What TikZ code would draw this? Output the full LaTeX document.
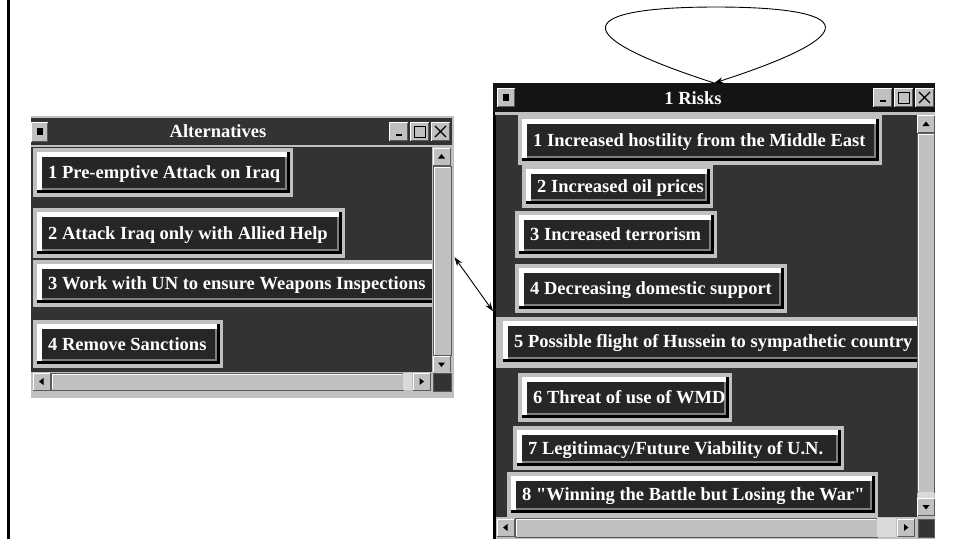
\documentclass[tikz,border=0pt]{standalone}
\usepackage{fontspec}
\setmainfont{Liberation Serif}
% same face without the TeX quote mapping, for straight quotes
\newfontfamily\straightfont{Liberation Serif}[Ligatures=ResetAll]
\usetikzlibrary{arrows.meta}

\definecolor{framegray}{HTML}{C0C0C0}
\definecolor{panelbg}{HTML}{333333}
\definecolor{btnfill}{HTML}{262626}
\definecolor{midgray}{HTML}{7F7F7F}
\definecolor{darkedge}{HTML}{5A5A5A}
\definecolor{activebar}{HTML}{141414}
\definecolor{stipple}{HTML}{DADADA}

% straight double quote
\newcommand{\dq}{{\straightfont\char34}}

% one list entry: light frame, bevelled dark button, white label
\newcommand{\panelitem}[6]{%
  \fill[framegray] (#1,#2) rectangle (#3,#4);
  \fill[black] ({#1+4},{#2+4}) rectangle ({#3-3},{#4-4});
  \fill[white] ({#1+4},{#2+4}) rectangle ({#3-6},{#4-7});
  \fill[midgray] ({#1+9},{#2+9}) rectangle ({#3-6},{#4-7});
  \fill[btnfill] ({#1+9},{#2+9}) rectangle ({#3-8},{#4-9});
  \node[itemlabel] (#5) at ({#1+15},{(#2+#4)/2+6}) {#6};
}
% scroll bar arrow button centred at (#1,#2), arrow turned by #3
\newcommand{\sbarbtn}[3]{%
  \fill[framegray] ({#1-9},{#2-9}) rectangle ({#1+9},{#2+9});
  \draw[white,line width=1pt] ({#1-8.5},{#2+8.5}) -- ({#1-8.5},{#2-8.5}) -- ({#1+8.5},{#2-8.5});
  \draw[darkedge,line width=1pt] ({#1+8.5},{#2-8.5}) -- ({#1+8.5},{#2+8.5}) -- ({#1-8.5},{#2+8.5});
  \fill[black,shift={(#1,#2)},rotate=#3] (-3.5,2) -- (3.5,2) -- (0,-2.5) -- cycle;
}
% title bar button
\newcommand{\titlebtn}[4]{%
  \fill[framegray] (#1,#2) rectangle (#3,#4);
  \draw[white,line width=1pt] ({#1+0.5},{#4-0.5}) -- ({#1+0.5},{#2+0.5}) -- ({#3-0.5},{#2+0.5});
  \draw[darkedge,line width=1pt] ({#3-0.5},{#2+0.5}) -- ({#3-0.5},{#4-0.5}) -- ({#1+0.5},{#4-0.5});
}
% the three buttons on the right of a title bar, starting at x=#1, top #2
\newcommand{\winctrls}[2]{%
  \titlebtn{#1}{#2}{#1+19}{#2+19}
  \fill[black] ({#1+7},{#2+12}) rectangle ({#1+13},{#2+14});
  \titlebtn{#1+21}{#2}{#1+40}{#2+19}
  \draw[black,line width=1pt] ({#1+25},{#2+4}) rectangle ({#1+36},{#2+15});
  \titlebtn{#1+42}{#2}{#1+61}{#2+19}
  \draw[black,line width=1.2pt] ({#1+46},{#2+4}) -- ({#1+57},{#2+15})
                                ({#1+57},{#2+4}) -- ({#1+46},{#2+15});
}

\tikzset{
  itemlabel/.style={anchor=base west,inner sep=0pt,text=white,
    font=\bfseries\fontsize{18.5}{22}\selectfont},
  wintitle/.style={inner sep=0pt,text=white,
    font=\bfseries\fontsize{18.5}{22}\selectfont},
  winbox/.style={anchor=north west,inner sep=0pt,draw=none},
  link/.style={black,line width=0.9pt,{Stealth[length=9pt,width=6pt]}-{Stealth[length=9pt,width=6pt]}},
  selflink/.style={black,line width=0.9pt,-{Stealth[length=9pt,width=6pt]}}
}

\begin{document}
\begin{tikzpicture}[x=1pt,y=-1pt]
\useasboundingbox (0,0) rectangle (957,539);
\fill[white] (0,0) rectangle (957,539);

% left edge rule
\draw[black,line width=3pt] (8.5,0) -- (8.5,539);

% ---------------- Alternatives window ----------------
\node[winbox,minimum width=423pt,minimum height=282pt] (altwin) at (31,116) {};
\fill[framegray] (31,116) rectangle (454,398);
\fill[panelbg] (31,118) rectangle (452,145);
\titlebtn{31}{122}{48}{142}
\fill[black] (37,128) rectangle (43,135);
\winctrls{389}{122}
\node[wintitle] (alttitle) at (218,131) {Alternatives};

\fill[panelbg] (31,147) rectangle (432,372);
\begin{scope}
  \clip (31,147) rectangle (432,372);
  \panelitem{33}{148}{293}{197}{alt1}{1 Pre-emptive Attack on Iraq}
  \panelitem{33}{208}{345}{258}{alt2}{2 Attack Iraq only with Allied Help}
  \panelitem{33}{260}{445}{307}{alt3}{3 Work with UN to ensure Weapons Inspections}
  \panelitem{33}{320}{223}{368}{alt4}{4 Remove Sanctions}
\end{scope}

% vertical scroll bar
\fill[framegray] (432,147) rectangle (452,372);
\sbarbtn{441.5}{156.5}{0}
\draw[darkedge,fill=framegray] (433,166.5) rectangle (451,355.5);
\draw[white,line width=1pt] (434,355) -- (434,167.5) -- (450,167.5);
\sbarbtn{441.5}{364.5}{180}
% horizontal scroll bar
\fill[framegray] (31,372) rectangle (452,398);
\sbarbtn{41.5}{381.5}{90}
\draw[darkedge,fill=framegray] (51,373) rectangle (403,390);
\draw[white,line width=1pt] (52,389) -- (52,374) -- (402,374);
\fill[stipple] (403,373) rectangle (412,390);
\sbarbtn{421.5}{381.5}{-90}
\draw[darkedge,fill=panelbg] (433,373) rectangle (451,391);

% ---------------- Risks window ----------------
\node[winbox,minimum width=442pt,minimum height=456pt] (riskwin) at (493,83) {};
\fill[black] (493,83) rectangle (935,539);
\fill[activebar] (493,83) rectangle (935,112);
\fill[framegray] (495,112) rectangle (935,115);
\titlebtn{497}{88}{515}{107}
\fill[black] (503,94) rectangle (509,101);
\winctrls{873}{88}
\node[wintitle] (risktitle) at (693,98) {1 Risks};

\fill[panelbg] (496,115) rectangle (917,517);
\begin{scope}
  \clip (496,115) rectangle (917,517);
  \panelitem{518}{115}{882}{165}{risk1}{1 Increased hostility from the Middle East}
  \panelitem{522}{165}{713}{208}{risk2}{2 Increased oil prices}
  \panelitem{515}{211}{717}{258}{risk3}{3 Increased terrorism}
  \panelitem{515}{264}{787}{313}{risk4}{4 Decreasing domestic support}
  \fill[framegray] (496,317) rectangle (917,368);
  \panelitem{499}{317}{945}{366}{risk5}{5 Possible flight of Hussein to sympathetic country}
  \panelitem{518}{373}{732}{422}{risk6}{6 Threat of use of WMD}
  \panelitem{513}{426}{844}{470}{risk7}{7 Legitimacy/Future Viability of U.N.}
  \panelitem{507}{472}{878}{517}{risk8}{8 \dq Winning the Battle but Losing the War\dq}
\end{scope}

% vertical scroll bar
\fill[framegray] (917,115) rectangle (935,539);
\sbarbtn{926}{124}{0}
\draw[darkedge,fill=framegray] (917.5,133.5) rectangle (934.5,492);
\draw[white,line width=1pt] (918.5,491) -- (918.5,134.5) -- (933.5,134.5);
\fill[stipple] (918,492) rectangle (934,498);
\sbarbtn{926}{507}{180}
% horizontal scroll bar
\fill[framegray] (496,517) rectangle (917,539);
\sbarbtn{505.5}{527.5}{90}
\draw[darkedge,fill=framegray] (515,518) rectangle (877,537);
\draw[white,line width=1pt] (516,536) -- (516,519) -- (876,519);
\fill[stipple] (877,518) rectangle (896,537);
\sbarbtn{906}{527.5}{-90}
\draw[darkedge,fill=panelbg] (918,519) rectangle (934,537);

% ---------------- connectors ----------------
\coordinate (looptop) at (716,7);
\draw[selflink] (riskwin.north) .. controls +(-170,-55) and +(-120,0) .. (looptop)
                .. controls +(120,0) and +(170,-55) .. (riskwin.north);
\draw[link] (altwin.east) -- (riskwin.west);
\end{tikzpicture}
\end{document}
